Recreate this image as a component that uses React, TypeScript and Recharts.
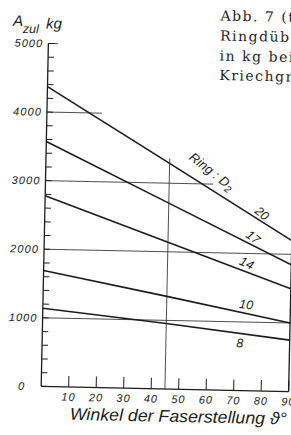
import React from 'react';
import { LineChart, Line, XAxis, YAxis, ReferenceLine, ReferenceDot } from 'recharts';

// Winkel der Faserstellung (degrees)
const angles = [0, 45, 90];
// A_zul in kg for ring dowels D2
const ring20 = [4370, 3290, 2200];
const ring17 = [3570, 2710, 1850];
const ring14 = [2780, 2140, 1500];
const ring10 = [1690, 1350, 1000];
const ring8 = [1140, 955, 750];
const ringNames = ['20', '17', '14', '10', '8'];

const xTicks = [10, 20, 30, 40, 50, 60, 70, 80, 90];
const yTicks = [0, 200, 400, 600, 800, 1000, 1200, 1400, 1600, 1800, 2000, 2200, 2400, 2600, 2800, 3000, 3200, 3400, 3600, 3800, 4000, 4200, 4400, 4600, 4800, 5000];
const yLabelValues = [0, 1000, 2000, 3000, 4000, 5000];
const rightTicks = [200, 400, 600, 800, 1000, 1200, 1400, 1600, 1800, 2000];

// annotation anchors (data space)
const ringLabelX = [79, 75.9, 73.8, 73.9, 71.9];
const ringLabelY = [2590, 2240, 1860, 1257, 695];
const ringLabelAngle = [38, 35, 24, 5, 0];

const data = angles.map((a, i) => ({
  angle: a,
  r20: ring20[i],
  r17: ring17[i],
  r14: ring14[i],
  r10: ring10[i],
  r8: ring8[i],
}));

const INK = '#1c1c1c';
const HAND = '"Liberation Sans", Arial, sans-serif';

const LeftTick = (p: any) => {
  const v = p.payload?.value;
  if (!yLabelValues.includes(v)) return <g />;
  const x = v === 0 ? p.x - 11 : p.x;
  return (
    <text x={x} y={p.y} dy="0.35em" textAnchor="end" fontFamily={HAND} fontStyle="italic" fontSize={11} letterSpacing={1.1} fill={INK}>
      {v}
    </text>
  );
};

const EmptyTick = () => <g />;

const makeLabel = (txt: string, angle: number, size: number) => (props: any) => {
  const { cx, cy } = props;
  return (
    <text x={cx} y={cy} dy="0.35em" textAnchor="middle" fontFamily={HAND} fontStyle="italic" fontSize={size} fill={INK} transform={`rotate(${angle} ${cx} ${cy})`}>
      {txt}
    </text>
  );
};

const RingTitle = (props: any) => {
  const { cx, cy } = props;
  return (
    <text x={cx} y={cy} dy="0.35em" textAnchor="middle" fontFamily={HAND} fontStyle="italic" fontSize={13} fill={INK} transform={`rotate(37 ${cx} ${cy})`}>
      Ring : D<tspan fontSize={10} dy="3">2</tspan>
    </text>
  );
};

const gridSegs = [
  { v: 1000, to: 90 },
  { v: 2000, to: 90 },
  { v: 3000, to: 61 },
  { v: 4000, to: 20 },
  { v: 5000, to: 3.5 },
];

const series = [
  { key: 'r20' },
  { key: 'r17' },
  { key: 'r14' },
  { key: 'r10' },
  { key: 'r8' },
];

export default function App() {
  return (
    <div style={{ position: 'fixed', left: 0, top: 0, width: 291, height: 435, overflow: 'hidden', background: '#fff' }}>
      <div
        style={{
          position: 'absolute',
          left: 0,
          top: 0,
          width: 321,
          height: 435,
          transform: 'rotate(1.2deg)',
          transformOrigin: '168.5px 217.5px',
        }}
      >
        <LineChart width={321} height={435} data={data} margin={{ top: 46, right: 18.75, bottom: 0, left: 0 }}>
          <XAxis
            dataKey="angle"
            type="number"
            domain={[0, 90]}
            ticks={xTicks}
            interval={0}
            height={46}
            tickSize={-11}
            tickMargin={17}
            axisLine={{ stroke: INK, strokeWidth: 1.3 }}
            tickLine={{ stroke: INK, strokeWidth: 1 }}
            tick={{ fontFamily: HAND, fontStyle: 'italic', fontSize: 11, fill: INK, letterSpacing: 1.1 }}
          />
          <YAxis
            yAxisId="left"
            type="number"
            domain={[0, 5000]}
            ticks={yTicks}
            interval={0}
            width={44.75}
            tickSize={-6}
            tickMargin={11}
            axisLine={{ stroke: INK, strokeWidth: 1.3 }}
            tickLine={{ stroke: INK, strokeWidth: 1 }}
            tick={<LeftTick />}
          />
          <YAxis
            yAxisId="right"
            orientation="right"
            type="number"
            domain={[0, 5000]}
            ticks={rightTicks}
            interval={0}
            width={10}
            tickSize={-6}
            axisLine={false}
            tickLine={{ stroke: INK, strokeWidth: 1 }}
            tick={<EmptyTick />}
          />
          {gridSegs.map((g) => (
            <ReferenceLine
              key={g.v}
              yAxisId="left"
              segment={[{ x: 0, y: g.v }, { x: g.to, y: g.v }]}
              stroke="#3a3a3a"
              strokeWidth={0.9}
            />
          ))}
          <ReferenceLine yAxisId="left" segment={[{ x: 45, y: 0 }, { x: 45, y: 3360 }]} stroke="#3a3a3a" strokeWidth={0.9} />
          <ReferenceLine yAxisId="left" segment={[{ x: 90, y: 0 }, { x: 90, y: ring20[2] }]} stroke={INK} strokeWidth={1.3} />
          {series.map((s) => (
            <Line
              key={s.key}
              yAxisId="left"
              type="linear"
              dataKey={s.key}
              stroke={INK}
              strokeWidth={1.6}
              dot={false}
              isAnimationActive={false}
            />
          ))}
          {ringNames.map((n, i) => (
            <ReferenceDot
              key={n}
              yAxisId="left"
              x={ringLabelX[i]}
              y={ringLabelY[i]}
              r={0}
              shape={makeLabel(n, ringLabelAngle[i], 12.5)}
            />
          ))}
          <ReferenceDot yAxisId="left" x={60.4} y={3185} r={0} shape={RingTitle} />
        </LineChart>
        <svg width={321} height={435} style={{ position: 'absolute', left: 0, top: 0, pointerEvents: 'none' }}>
          <text x={9} y={29} fontFamily={HAND} fontStyle="italic" fontSize={15} fill={INK}>A</text>
          <text x={19} y={36} fontFamily={HAND} fontStyle="italic" fontSize={12.5} fill={INK}>zul</text>
          <text x={42} y={31} fontFamily={HAND} fontStyle="italic" fontSize={15} fill={INK}>kg</text>
          <text
            x={182.5}
            y={421.8}
            textAnchor="middle"
            fontFamily={HAND}
            fontStyle="italic"
            fontSize={17}
            fill={INK}
            textLength={217}
            lengthAdjust="spacingAndGlyphs"
          >
            Winkel der Faserstellung ϑ°
          </text>
          <g fontFamily='"DejaVu Serif", "Liberation Serif", serif' fontSize={14} letterSpacing={1.5} fill="#1e1e1e">
            <text x={216.3} y={19.5}>Abb. 7 (t</text>
            <text x={216.3} y={39.5}>Ringdübel</text>
            <text x={216.3} y={59.5}>in kg bei</text>
            <text x={216.3} y={79}>Kriechgrenze</text>
          </g>
        </svg>
      </div>
    </div>
  );
}
